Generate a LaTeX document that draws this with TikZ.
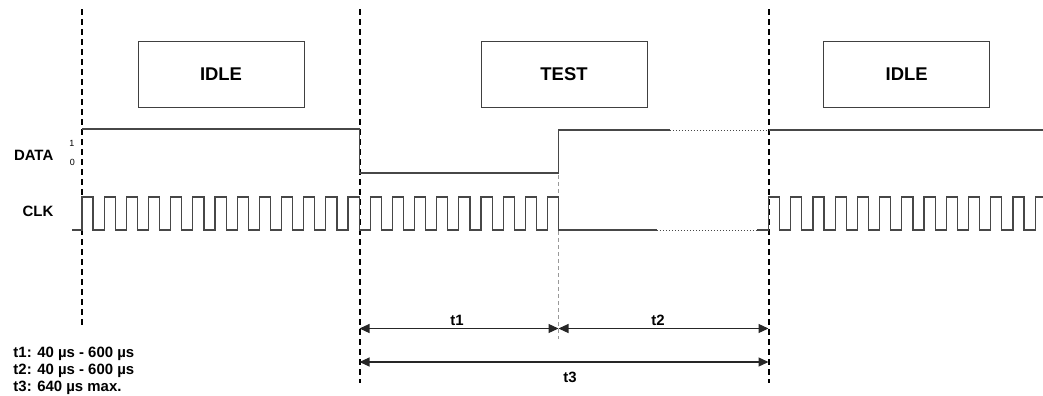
\documentclass[tikz,border=0pt]{standalone}
\usepackage{fontspec}
\setmainfont{Liberation Sans}
\usetikzlibrary{arrows.meta}
\begin{document}
\begin{tikzpicture}[x=1bp,y=-1bp,
  sig/.style={draw=black!72,line width=1.2bp},
  sigdot/.style={draw=black!72,line width=1bp,dotted},
  phase/.style={draw=black,line width=2bp,dash pattern=on 6bp off 4bp},
  stbox/.style={draw=black!75,line width=1bp,minimum width=166bp,minimum height=66bp,inner sep=0pt,
    font=\fontsize{18.5}{20}\selectfont\bfseries},
  lbl/.style={inner sep=0pt,font=\fontsize{15}{17}\selectfont\bfseries},
  tiny/.style={inner sep=0pt,font=\fontsize{9}{10}\selectfont},
  dim/.style={draw=black!85,line width=1.2bp,{Triangle[length=10bp,width=9bp]}-{Triangle[length=10bp,width=9bp]}}]
\useasboundingbox (0,0) rectangle (1043,395);
% phase markers
\coordinate (a0) at (82,9);   \coordinate (a1) at (82,327);
\coordinate (b0) at (359.5,9); \coordinate (b1) at (359.5,383);
\coordinate (c0) at (768.5,9); \coordinate (c1) at (768.5,383);
\coordinate (m0) at (558.5,175); \coordinate (m1) at (558.5,339);
\draw[phase] (a0) -- (a1);
\draw[phase] (b0) -- (b1);
\draw[phase] (c0) -- (c1);
\draw[draw=black!40,line width=0.8bp,dash pattern=on 4bp off 3bp] (m0) -- (m1);
% state boxes
\node[stbox] (idle1) at (221,74.5) {IDLE};
\node[stbox] (test) at (564,74) {TEST};
\node[stbox] (idle2) at (906.7,74) {IDLE};
% labels
\node[lbl,anchor=base east] (data) at (53.5,160) {DATA};
\node[lbl,anchor=base east] (clk) at (53.5,216) {CLK};
\node[tiny,anchor=base] (one) at (71.8,146.7) {1};
\node[tiny,anchor=base] (zero) at (72.3,165) {0};
% DATA signal
\draw[sig] (82,129) -- (359.5,129) -- (359.5,173) -- (558.5,173) -- (558.5,130) -- (670,130);
\draw[sigdot] (670,130) -- (768.5,130);
\draw[sig] (768.5,130) -- (1043,130);
% CLK signal
\draw[sig,line join=miter] (72,230)
  foreach \k in {0,...,20} { -- ({82+22.17*\k},230) -- ++(0,-33) -- ++(11.08,0) -- ++(0,33) }
  -- (547.6,230) -- (547.6,197) -- (558.7,197) -- (558.7,230) -- (657,230);
\draw[sigdot] (657,230) -- (757,230);
\draw[sig,line join=miter] (757,230)
  foreach \k in {0,...,11} { -- ({768.5+22.22*\k},230) -- ++(0,-33) -- ++(11.1,0) -- ++(0,33) }
  -- (1035.2,230) -- (1035.2,197) -- (1043,197);
% dimension arrows
\coordinate (t1a) at (359.5,328.5); \coordinate (t1b) at (558.5,328.5);
\coordinate (t2b) at (768.5,328.5);
\coordinate (t3a) at (359.5,362); \coordinate (t3b) at (768.5,362);
\draw[dim] (t1a) -- (t1b);
\draw[dim] (t1b) -- (t2b);
\draw[dim] (t3a) -- (t3b);
\node[lbl] (lt1) at (457,320) {t1};
\node[lbl] (lt2) at (658,320) {t2};
\node[lbl] (lt3) at (570,377) {t3};
% legend
\node[lbl,anchor=base west] (n1) at (13.3,357.5) {t1: 40 µs - 600 µs};
\node[lbl,anchor=base west] (n2) at (13.3,374.5) {t2: 40 µs - 600 µs};
\node[lbl,anchor=base west] (n3) at (13.3,391.5) {t3: 640 µs max.};
\end{tikzpicture}
\end{document}
